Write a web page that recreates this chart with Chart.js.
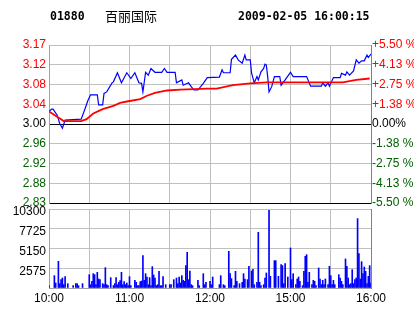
<!DOCTYPE html>
<html><head><meta charset="utf-8">
<script src="https://cdn.jsdelivr.net/npm/chart.js@4/dist/chart.umd.min.js"></script>
<style>
html,body{margin:0;padding:0;background:#fff;width:414px;height:314px;overflow:hidden}
#wrap{position:relative;width:414px;height:314px}
canvas{position:absolute;left:0;top:0}
.hd{position:absolute;top:9px;font:bold 11.5px "DejaVu Sans Mono",monospace;color:#000;line-height:14px;white-space:nowrap}
</style></head><body>
<div id="wrap">
<canvas id="vol" width="414" height="314"></canvas>
<canvas id="price" width="414" height="314"></canvas>
<div class="hd" id="code" style="left:50px"></div>
<div class="hd" id="name" style="left:105px;top:8px;font:13px 'Noto Sans CJK SC',sans-serif;line-height:16px"></div>
<div class="hd" id="stamp" style="left:238px"></div>
</div>
<script>
const stockCode = '01880';
const stockName = '百丽国际';
const stampText = '2009-02-05 16:00:15';
const prevClose = 3.00;
const pctTicks = [-5.5, -4.125, -2.75, -1.375, 0, 1.375, 2.75, 4.125, 5.5];
const priceTickLabels = ['2.83','2.88','2.92','2.96','3.00','3.04','3.08','3.12','3.17'];
const pctTickLabels = ['-5.50 %','-4.13 %','-2.75 %','-1.38 %','0.00%','+1.38 %','+2.75 %','+4.13 %','+5.50 %'];
const timeTicks = [0,30,60,90,120,150,180,210,240];
const timeLabelMinutes = [0,60,120,180,240];
const timeLabelTexts = ['10:00','11:00','12:00','15:00','16:00'];
const volTicks = [0,2575,5150,7725,10300];
const volTickLabels = ['','2575','5150','7725','10300'];

const priceMinutes = [0,2,3,6,8,10,12,24,27,29,31,36,37,40,41,43,47,48,51,54,58,61,64,67,69,70,72,74,76,79,84,86,88,94,95,99,100,104,106,108,111,115,118,127,129,130,135,136,139,141,144,146,147,150,151,153,155,156,158,160,161,162,163,164,166,168,172,173,176,180,182,192,195,203,204,206,208,209,212,217,218,221,222,224,227,229,231,233,235,237,238,240];
const priceValues = [3.026,3.031,3.031,3.019,3.001,2.991,3.008,3.010,3.033,3.049,3.061,3.061,3.040,3.040,3.064,3.067,3.086,3.088,3.107,3.086,3.107,3.095,3.107,3.086,3.085,3.067,3.108,3.102,3.116,3.108,3.108,3.116,3.108,3.108,3.086,3.092,3.081,3.086,3.078,3.071,3.071,3.085,3.097,3.098,3.113,3.107,3.107,3.135,3.144,3.134,3.127,3.144,3.134,3.134,3.106,3.086,3.099,3.092,3.109,3.116,3.125,3.123,3.099,3.067,3.078,3.099,3.099,3.081,3.092,3.108,3.099,3.099,3.079,3.079,3.086,3.079,3.086,3.079,3.097,3.097,3.106,3.102,3.109,3.102,3.111,3.134,3.127,3.132,3.132,3.144,3.139,3.146];

const avgMinutes = [0,11,24,28,33,40,48,53,58,68,73,79,88,98,118,125,137,150,162,219,229,239];
const avgValues = [3.026,3.006,3.006,3.010,3.022,3.031,3.038,3.044,3.047,3.052,3.059,3.065,3.070,3.072,3.074,3.074,3.081,3.085,3.087,3.087,3.092,3.095];

const volMinutes = [0,4,5,7,8,9,10,11,12,14,18,20,21,22,25,30,31,32,33,34,35,36,37,38,40,41,42,43,44,46,48,49,50,51,52,53,54,55,56,57,58,59,60,61,64,65,66,67,68,69,70,71,72,73,74,75,76,77,78,79,80,81,82,83,84,85,87,90,91,93,95,96,97,98,99,100,101,102,103,104,105,106,107,111,112,115,116,117,120,121,122,127,128,130,131,134,135,136,138,139,140,142,144,145,146,148,149,151,152,153,155,156,157,158,160,161,162,164,165,168,169,171,173,174,175,176,178,180,181,182,184,185,186,187,189,190,191,192,193,194,196,197,198,199,201,202,203,204,205,206,208,209,210,211,212,213,216,217,218,219,221,222,223,224,225,226,227,228,229,230,231,232,233,234,235,236,237,238,239,240];
const volValues = [305,1610,650,3480,565,1090,1305,435,1480,565,305,565,565,305,565,1740,435,870,1870,1740,435,2045,1175,1090,565,435,2655,435,305,1350,305,565,1350,435,740,955,2045,435,825,435,650,305,1480,305,1000,740,305,305,825,915,4220,1000,1870,1435,435,1350,305,2785,1700,1305,305,435,2175,305,305,1480,435,435,435,1090,1305,565,1435,650,1610,1000,870,2915,4655,1090,2220,435,305,1000,305,1870,435,740,870,435,1435,435,1610,435,305,4785,1870,1220,305,2175,870,565,740,1870,1175,1090,2830,2220,2435,435,740,7265,740,305,435,1305,1960,10135,1520,3565,3565,1520,3045,2915,565,3175,1435,5220,1090,1870,435,1175,1435,870,305,2175,4130,4350,740,2045,435,1000,870,305,2610,1175,435,1000,435,1175,435,2830,1610,435,1000,435,1740,1305,870,435,3785,2830,1305,435,565,2390,565,1090,1305,9050,4480,1175,3435,1870,2740,2175,565,1520,2915,650];

document.getElementById('code').textContent = stockCode;
document.getElementById('name').textContent = stockName;
document.getElementById('stamp').textContent = stampText;

const FONT = {family:'"Liberation Sans", Arial, sans-serif', size:12};
const RED = '#ff0000', GREEN = '#006000', GRID = '#c0c0c0', AXIS = '#a0a0a0';
const priceTickValues = pctTicks.map(p => prevClose * (1 + p/100));
const pMin = priceTickValues[0], pMax = priceTickValues[priceTickValues.length-1];
const signColor = i => i > 4 ? RED : (i < 4 ? GREEN : '#000');
const toPts = (xs, ys) => xs.map((x,i) => ({x, y: ys[i]}));

new Chart(document.getElementById('price'), {
  type: 'line',
  data: { datasets: [
    { data: toPts(avgMinutes, avgValues), borderColor: RED, borderWidth: 1.8, pointRadius: 0, tension: 0 },
    { data: toPts(priceMinutes, priceValues), borderColor: '#0000ff', borderWidth: 1.2, pointRadius: 0, tension: 0 }
  ]},
  options: {
    responsive: false, animation: false, devicePixelRatio: 1,
    layout: { padding: { top: 45, bottom: 111, left: 0, right: 0 } },
    plugins: { legend: { display: false }, tooltip: { enabled: false } },
    scales: {
      x: { type: 'linear', min: 0, max: 240,
           afterBuildTicks: s => { s.ticks = timeTicks.map(v => ({value: v})); },
           afterFit: s => { s.height = 0; },
           ticks: { display: false },
           grid: { color: GRID, drawTicks: false },
           border: { display: false } },
      y: { position: 'left', min: pMin, max: pMax,
           afterBuildTicks: s => { s.ticks = priceTickValues.map(v => ({value: v})); },
           afterFit: s => { s.width = 49; },
           ticks: { callback: (v, i) => priceTickLabels[i], color: c => signColor(c.index), font: FONT, padding: 3 },
           grid: { color: c => (c.index === 0 || c.index === 4) ? '#000' : GRID, drawTicks: false },
           border: { color: AXIS } },
      yr: { position: 'right', min: pMin, max: pMax,
           afterBuildTicks: s => { s.ticks = priceTickValues.map(v => ({value: v})); },
           afterFit: s => { s.width = 43; },
           ticks: { callback: (v, i) => pctTickLabels[i], color: c => signColor(c.index), font: FONT, padding: 1 },
           grid: { display: false, drawTicks: false },
           border: { color: '#808080' } }
    }
  }
});

new Chart(document.getElementById('vol'), {
  type: 'bar',
  data: { datasets: [
    { data: toPts(volMinutes, volValues), backgroundColor: '#0000ff', barThickness: 1, borderWidth: 0 }
  ]},
  options: {
    responsive: false, animation: false, devicePixelRatio: 1,
    layout: { padding: { top: 209, bottom: 0, left: 0, right: 0 } },
    plugins: { legend: { display: false }, tooltip: { enabled: false } },
    scales: {
      x: { type: 'linear', min: 0, max: 240, offset: false,
           afterBuildTicks: s => { s.ticks = timeTicks.map(v => ({value: v})); },
           afterFit: s => { s.height = 26; },
           ticks: { callback: v => { const k = timeLabelMinutes.indexOf(v); return k >= 0 ? timeLabelTexts[k] : ''; },
                    font: FONT, color: '#000', padding: 3, maxRotation: 0, autoSkip: false },
           grid: { color: GRID, drawTicks: false, offset: false },
           border: { color: AXIS } },
      y: { position: 'left', min: 0, max: 10300,
           afterBuildTicks: s => { s.ticks = volTicks.map(v => ({value: v})); },
           afterFit: s => { s.width = 49; },
           ticks: { callback: (v, i) => volTickLabels[i], color: '#000', font: FONT, padding: 3, labelOffset: 3 },
           grid: { color: GRID, drawTicks: false },
           border: { color: AXIS } },
      yr: { position: 'right', min: 0, max: 10300,
           afterFit: s => { s.width = 43; },
           ticks: { display: false },
           grid: { display: false, drawTicks: false },
           border: { color: '#808080' } }
    }
  }
});
</script>
</body></html>
